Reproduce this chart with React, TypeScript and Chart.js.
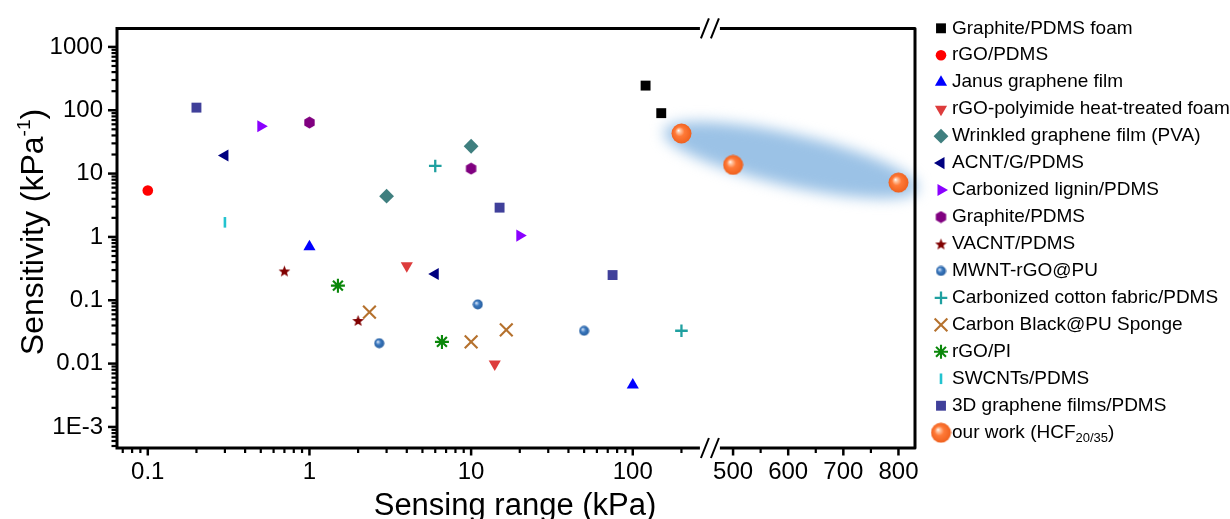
import React, { useEffect, useRef } from 'react';
import { Chart, registerables, Scale, PointElement } from 'chart.js';

const FONT_FAMILY = '"Liberation Sans", Arial, Helvetica, sans-serif';

// ---------- axes ----------
const X_LOG_MIN = 0.0645;
const X_LOG_MAX = 300;
const X_LIN_MIN = 458;
const X_LIN_MAX = 830;
const X_BREAK_FRACTION = 0.743;
const xTickValues = [0.1, 1, 10, 100, 500, 600, 700, 800];
const xTickLabels = ['0.1', '1', '10', '100', '500', '600', '700', '800'];
const xMinorLinearTicks = [550, 650, 750];

const Y_MIN = 4.65e-4;
const Y_MAX = 1960;
const yTickValues = [1e-3, 0.01, 0.1, 1, 10, 100, 1000];
const yTickLabels = ['1E-3', '0.01', '0.1', '1', '10', '100', '1000'];

const xAxisTitle = 'Sensing range (kPa)';
const yAxisTitleMain = 'Sensitivity (kPa';
const yAxisTitleSup = '-1';
const yAxisTitleEnd = ')';

// ---------- series ----------
const seriesLabels = [
  'Graphite/PDMS foam',
  'rGO/PDMS',
  'Janus graphene film',
  'rGO-polyimide heat-treated foam',
  'Wrinkled graphene film (PVA)',
  'ACNT/G/PDMS',
  'Carbonized lignin/PDMS',
  'Graphite/PDMS',
  'VACNT/PDMS',
  'MWNT-rGO@PU',
  'Carbonized cotton fabric/PDMS',
  'Carbon Black@PU Sponge',
  'rGO/PI',
  'SWCNTs/PDMS',
  '3D graphene films/PDMS',
  'our work (HCF',
];
const ourWorkSub = '20/35';
const ourWorkEnd = ')';

const seriesColors = [
  '#000000', '#FF0000', '#0000FF', '#DD3C3C', '#3F7F7F', '#000080',
  '#8A00FF', '#800080', '#800000', '#2F6DB5', '#1FA0A0', '#B5712D',
  '#0A870A', '#22C3CF', '#40409A', '#FF7A38',
];

const graphiteFoamX = [120, 150];
const graphiteFoamY = [245, 90];
const rgoPdmsX = [0.1];
const rgoPdmsY = [5.4];
const janusX = [1, 100];
const janusY = [0.7, 0.0046];
const rgoPolyimideX = [4, 14];
const rgoPolyimideY = [0.35, 0.0099];
const wrinkledX = [10, 3];
const wrinkledY = [27, 4.4];
const acntX = [0.3, 6];
const acntY = [19.3, 0.26];
const ligninX = [0.5, 20];
const ligninY = [56, 1.05];
const graphitePdmsX = [1, 10];
const graphitePdmsY = [64, 12];
const vacntX = [0.7, 2];
const vacntY = [0.29, 0.048];
const mwntX = [2.7, 11, 50];
const mwntY = [0.021, 0.086, 0.033];
const cottonX = [6, 200];
const cottonY = [13.2, 0.033];
const carbonBlackX = [2.35, 10, 16.5];
const carbonBlackY = [0.065, 0.022, 0.034];
const rgoPiX = [1.5, 6.6];
const rgoPiY = [0.17, 0.022];
const swcntX = [0.3];
const swcntY = [1.7];
const graphene3dX = [0.2, 15, 75];
const graphene3dY = [110, 2.9, 0.25];
const ourWorkX = [200, 500, 800];
const ourWorkY = [43, 13.7, 7.2];

const seriesX = [graphiteFoamX, rgoPdmsX, janusX, rgoPolyimideX, wrinkledX, acntX, ligninX, graphitePdmsX, vacntX, mwntX, cottonX, carbonBlackX, rgoPiX, swcntX, graphene3dX, ourWorkX];
const seriesY = [graphiteFoamY, rgoPdmsY, janusY, rgoPolyimideY, wrinkledY, acntY, ligninY, graphitePdmsY, vacntY, mwntY, cottonY, carbonBlackY, rgoPiY, swcntY, graphene3dY, ourWorkY];

// ---------- broken x scale (log segment + linear segment) ----------
class BrokenLogLinearScale extends Scale {
  static id = 'brokenLogLinear';
  static defaults = {};

  determineDataLimits() {
    this.min = X_LOG_MIN;
    this.max = X_LIN_MAX;
  }
  buildTicks() {
    return xTickValues.map((value) => ({ value }));
  }
  getLabelForValue(value: number) {
    return String(value);
  }
  breakPixel(): number {
    return this.left + (this.right - this.left) * X_BREAK_FRACTION;
  }
  getPixelForValue(value: number): number {
    const bp = this.breakPixel();
    if (value <= X_LOG_MAX) {
      const a = Math.log10(X_LOG_MIN);
      const b = Math.log10(X_LOG_MAX);
      return this.left + ((Math.log10(value) - a) / (b - a)) * (bp - this.left);
    }
    return bp + ((value - X_LIN_MIN) / (X_LIN_MAX - X_LIN_MIN)) * (this.right - bp);
  }
  getValueForPixel(pixel: number): number {
    const bp = this.breakPixel();
    if (pixel <= bp) {
      const a = Math.log10(X_LOG_MIN);
      const b = Math.log10(X_LOG_MAX);
      return Math.pow(10, a + ((pixel - this.left) / (bp - this.left)) * (b - a));
    }
    return X_LIN_MIN + ((pixel - bp) / (this.right - bp)) * (X_LIN_MAX - X_LIN_MIN);
  }
}

Chart.register(...registerables, BrokenLogLinearScale);

// ---------- marker images ----------
function makeSphere(d: number, light: string, base: string, dark: string) {
  const c = document.createElement('canvas');
  c.width = d;
  c.height = d;
  const ctx = c.getContext('2d')!;
  const r = d / 2;
  const g = ctx.createRadialGradient(r - r * 0.3, r - r * 0.3, 0, r, r, r);
  g.addColorStop(0, '#ffffff');
  g.addColorStop(0.16, light);
  g.addColorStop(0.45, base);
  g.addColorStop(1, dark);
  ctx.fillStyle = g;
  ctx.beginPath();
  ctx.arc(r, r, r - 0.5, 0, Math.PI * 2);
  ctx.fill();
  return c;
}
function makeHexagon(d: number, color: string) {
  const c = document.createElement('canvas');
  c.width = d;
  c.height = d;
  const ctx = c.getContext('2d')!;
  const r = d / 2 - 0.5;
  ctx.fillStyle = color;
  ctx.beginPath();
  for (let k = 0; k < 6; k++) {
    const a = -Math.PI / 2 + (k * Math.PI) / 3;
    const px = d / 2 + r * Math.cos(a);
    const py = d / 2 + r * Math.sin(a);
    if (k === 0) ctx.moveTo(px, py);
    else ctx.lineTo(px, py);
  }
  ctx.closePath();
  ctx.fill();
  return c;
}
function makeStar(d: number, color: string) {
  const c = document.createElement('canvas');
  c.width = d;
  c.height = d;
  const ctx = c.getContext('2d')!;
  const ro = d / 2 - 0.3;
  const ri = ro * 0.42;
  ctx.fillStyle = color;
  ctx.beginPath();
  for (let k = 0; k < 10; k++) {
    const a = -Math.PI / 2 + (k * Math.PI) / 5;
    const r = k % 2 === 0 ? ro : ri;
    const px = d / 2 + r * Math.cos(a);
    const py = d / 2 + 0.6 + r * Math.sin(a);
    if (k === 0) ctx.moveTo(px, py);
    else ctx.lineTo(px, py);
  }
  ctx.closePath();
  ctx.fill();
  return c;
}

// ---------- decoration plugin: ellipse, frame, ticks, titles, legend ----------
const LEGEND_MARKER_X = 941;
const LEGEND_TEXT_X = 952;
const LEGEND_FIRST_Y = 28.3;
const LEGEND_ROW = 26.96;

const decorPlugin = {
  id: 'decor',
  beforeDatasetsDraw(chart: any) {
    const ctx = chart.ctx;
    const meta = chart.getDatasetMeta(seriesLabels.length - 1);
    const p1 = meta.data[0];
    const p3 = meta.data[meta.data.length - 1];
    const cx = (p1.x + p3.x) / 2 + 1;
    const cy = (p1.y + p3.y) / 2 + 2;
    const ang = Math.atan2(p3.y - p1.y, p3.x - p1.x);
    const a = Math.hypot(p3.x - p1.x, p3.y - p1.y) / 2 + 19;
    const b = 26;
    ctx.save();
    ctx.filter = 'blur(7px)';
    ctx.fillStyle = '#9BC2E6';
    ctx.translate(cx, cy);
    ctx.rotate(ang);
    ctx.beginPath();
    ctx.ellipse(0, 0, a, b, 0, 0, Math.PI * 2);
    ctx.fill();
    ctx.restore();
  },
  afterDatasetsDraw(chart: any) {
    const ctx = chart.ctx;
    const { left, right, top, bottom } = chart.chartArea;
    const xs = chart.scales.x;
    const ys = chart.scales.y;
    const bx = xs.breakPixel();
    const gap = 10;
    ctx.save();
    ctx.strokeStyle = '#000';
    ctx.lineWidth = 3;
    ctx.lineJoin = 'round';
    ctx.lineCap = 'butt';
    ctx.beginPath();
    ctx.moveTo(left, top);
    ctx.lineTo(bx - gap, top);
    ctx.moveTo(bx + gap, top);
    ctx.lineTo(right, top);
    ctx.lineTo(right, bottom);
    ctx.lineTo(bx + gap, bottom);
    ctx.moveTo(bx - gap, bottom);
    ctx.lineTo(left, bottom);
    ctx.moveTo(left, bottom + 1.5);
    ctx.lineTo(left, top - 1.5);
    ctx.stroke();

    // y ticks
    for (let d = -4; d <= 3; d++) {
      for (let m = 1; m <= 9; m++) {
        const v = m * Math.pow(10, d);
        if (v < Y_MIN || v > Y_MAX) continue;
        const py = ys.getPixelForValue(v);
        const major = m === 1;
        ctx.lineWidth = major ? 2.5 : 2.2;
        ctx.beginPath();
        ctx.moveTo(left, py);
        ctx.lineTo(left - (major ? 9 : 5.5), py);
        ctx.stroke();
      }
    }
    // x ticks (log segment)
    for (let d = -2; d <= 2; d++) {
      for (let m = 1; m <= 9; m++) {
        const v = m * Math.pow(10, d);
        if (v < X_LOG_MIN || v > X_LOG_MAX - 20) continue;
        const px = xs.getPixelForValue(v);
        const major = m === 1;
        ctx.lineWidth = major ? 2.5 : 2.2;
        ctx.beginPath();
        ctx.moveTo(px, bottom);
        ctx.lineTo(px, bottom + (major ? 7.5 : 5));
        ctx.stroke();
      }
    }
    // x ticks (linear segment)
    xTickValues.filter((v) => v > X_LOG_MAX).forEach((v) => {
      const px = xs.getPixelForValue(v);
      ctx.lineWidth = 2.5;
      ctx.beginPath();
      ctx.moveTo(px, bottom);
      ctx.lineTo(px, bottom + 7.5);
      ctx.stroke();
    });
    xMinorLinearTicks.forEach((v) => {
      const px = xs.getPixelForValue(v);
      ctx.lineWidth = 2.2;
      ctx.beginPath();
      ctx.moveTo(px, bottom);
      ctx.lineTo(px, bottom + 5);
      ctx.stroke();
    });
    // break marks
    ctx.lineWidth = 2;
    [top, bottom].forEach((ly) => {
      ctx.beginPath();
      ctx.moveTo(bx - 9, ly + 10);
      ctx.lineTo(bx - 1, ly - 10);
      ctx.moveTo(bx + 1, ly + 10);
      ctx.lineTo(bx + 9, ly - 10);
      ctx.stroke();
    });
    ctx.restore();
  },
  afterDraw(chart: any) {
    const ctx = chart.ctx;
    const { left, right } = chart.chartArea;
    ctx.save();
    ctx.fillStyle = '#000';
    // x title
    ctx.font = `31px ${FONT_FAMILY}`;
    ctx.textAlign = 'center';
    ctx.textBaseline = 'alphabetic';
    ctx.fillText(xAxisTitle, (left + right) / 2 - 1, 515);
    // y title (rotated, with superscript)
    ctx.save();
    ctx.translate(43, 232);
    ctx.rotate(-Math.PI / 2);
    ctx.textAlign = 'left';
    const mainFont = `32px ${FONT_FAMILY}`;
    const supFont = `19px ${FONT_FAMILY}`;
    ctx.font = mainFont;
    const w1 = ctx.measureText(yAxisTitleMain).width;
    const w3 = ctx.measureText(yAxisTitleEnd).width;
    ctx.font = supFont;
    const w2 = ctx.measureText(yAxisTitleSup).width;
    let x0 = -(w1 + w2 + w3) / 2;
    ctx.font = mainFont;
    ctx.fillText(yAxisTitleMain, x0, 0);
    x0 += w1;
    ctx.font = supFont;
    ctx.fillText(yAxisTitleSup, x0, -13);
    x0 += w2;
    ctx.font = mainFont;
    ctx.fillText(yAxisTitleEnd, x0, 0);
    ctx.restore();

    // legend
    ctx.textAlign = 'left';
    ctx.textBaseline = 'middle';
    chart.data.datasets.forEach((ds: any, i: number) => {
      const y = LEGEND_FIRST_Y + i * LEGEND_ROW;
      const meta = chart.getDatasetMeta(i);
      const el0 = meta.data[0];
      if (el0) {
        const marker = new PointElement({ x: LEGEND_MARKER_X, y, options: el0.options } as any);
        marker.draw(ctx);
      }
      ctx.fillStyle = '#000';
      ctx.font = `19px ${FONT_FAMILY}`;
      ctx.fillText(ds.label, LEGEND_TEXT_X, y);
      if (i === seriesLabels.length - 1) {
        const w = ctx.measureText(ds.label).width;
        ctx.font = `13px ${FONT_FAMILY}`;
        ctx.fillText(ourWorkSub, LEGEND_TEXT_X + w, y + 6);
        const ws = ctx.measureText(ourWorkSub).width;
        ctx.font = `19px ${FONT_FAMILY}`;
        ctx.fillText(ourWorkEnd, LEGEND_TEXT_X + w + ws, y);
      }
    });
    ctx.restore();
  },
};

export default function App() {
  const canvasRef = useRef<HTMLCanvasElement | null>(null);

  useEffect(() => {
    if (!canvasRef.current) return;
    const hexImg = makeHexagon(13, seriesColors[7]);
    const starImg = makeStar(13, seriesColors[8]);
    const blueSphere = makeSphere(11, '#A9C6EA', '#3A78BE', '#245A9A');
    const orangeSphere = makeSphere(21, '#FFC7A4', '#FF7A38', '#EE5F1C');

    const markerStyles: any[] = [
      { pointStyle: 'rect', radius: 7, borderWidth: 0 },
      { pointStyle: 'circle', radius: 5.3, borderWidth: 0 },
      { pointStyle: 'triangle', radius: 7, borderWidth: 0 },
      { pointStyle: 'triangle', radius: 7, rotation: 180, borderWidth: 0 },
      { pointStyle: 'rectRot', radius: 7.4, borderWidth: 0 },
      { pointStyle: 'triangle', radius: 7, rotation: 270, borderWidth: 0 },
      { pointStyle: 'triangle', radius: 7, rotation: 90, borderWidth: 0 },
      { pointStyle: hexImg, radius: 6.5, borderWidth: 0 },
      { pointStyle: starImg, radius: 6.5, borderWidth: 0 },
      { pointStyle: blueSphere, radius: 5.5, borderWidth: 0 },
      { pointStyle: 'cross', radius: 6.3, borderWidth: 2.3 },
      { pointStyle: 'crossRot', radius: 9, borderWidth: 2.1 },
      { pointStyle: 'star', radius: 7, borderWidth: 2.1 },
      { pointStyle: 'line', radius: 5.3, rotation: 90, borderWidth: 2.6 },
      { pointStyle: 'rect', radius: 7, borderWidth: 0 },
      { pointStyle: orangeSphere, radius: 10.5, borderWidth: 0 },
    ];

    const datasets = seriesLabels.map((label, i) => ({
      label,
      data: seriesX[i].map((x, k) => ({ x, y: seriesY[i][k] })),
      backgroundColor: seriesColors[i],
      borderColor: seriesColors[i],
      pointStyle: markerStyles[i].pointStyle,
      pointRadius: markerStyles[i].radius,
      pointRotation: markerStyles[i].rotation || 0,
      pointBorderWidth: markerStyles[i].borderWidth,
      pointBackgroundColor: seriesColors[i],
      pointBorderColor: seriesColors[i],
      showLine: false,
      clip: false as any,
    }));

    const chart = new Chart(canvasRef.current, {
      type: 'scatter',
      data: { datasets },
      options: {
        responsive: false,
        animation: false,
        devicePixelRatio: 1,
        events: [],
        layout: { padding: { left: 0, top: 24, right: 315, bottom: 0 } },
        plugins: { legend: { display: false }, tooltip: { enabled: false } },
        scales: {
          x: {
            type: 'brokenLogLinear' as any,
            position: 'bottom',
            grid: { display: false, drawTicks: false },
            border: { display: false },
            ticks: {
              autoSkip: false,
              maxRotation: 0,
              minRotation: 0,
              padding: 10,
              color: '#000',
              font: { family: FONT_FAMILY, size: 24 },
              callback: (_v: any, index: number) => xTickLabels[index],
            },
            afterFit: (scale: any) => {
              scale.height = 71;
            },
          } as any,
          y: {
            type: 'logarithmic',
            position: 'left',
            min: Y_MIN,
            max: Y_MAX,
            grid: { display: false, drawTicks: false },
            border: { display: false },
            afterBuildTicks: (scale: any) => {
              scale.ticks = yTickValues.map((value) => ({ value }));
            },
            ticks: {
              autoSkip: false,
              padding: 14,
              color: '#000',
              font: { family: FONT_FAMILY, size: 24 },
              callback: (v: any) => {
                const idx = yTickValues.findIndex((t) => Math.abs(Math.log10(t) - Math.log10(v)) < 1e-6);
                return idx >= 0 ? yTickLabels[idx] : '';
              },
            },
            afterFit: (scale: any) => {
              scale.width = 117;
            },
          } as any,
        },
      },
      plugins: [decorPlugin],
    });
    return () => chart.destroy();
  }, []);

  return (
    <div style={{ position: 'fixed', left: 0, top: 0, width: 1230, height: 519, background: '#fff' }}>
      <canvas ref={canvasRef} width={1230} height={519} style={{ display: 'block', width: 1230, height: 519 }} />
    </div>
  );
}
